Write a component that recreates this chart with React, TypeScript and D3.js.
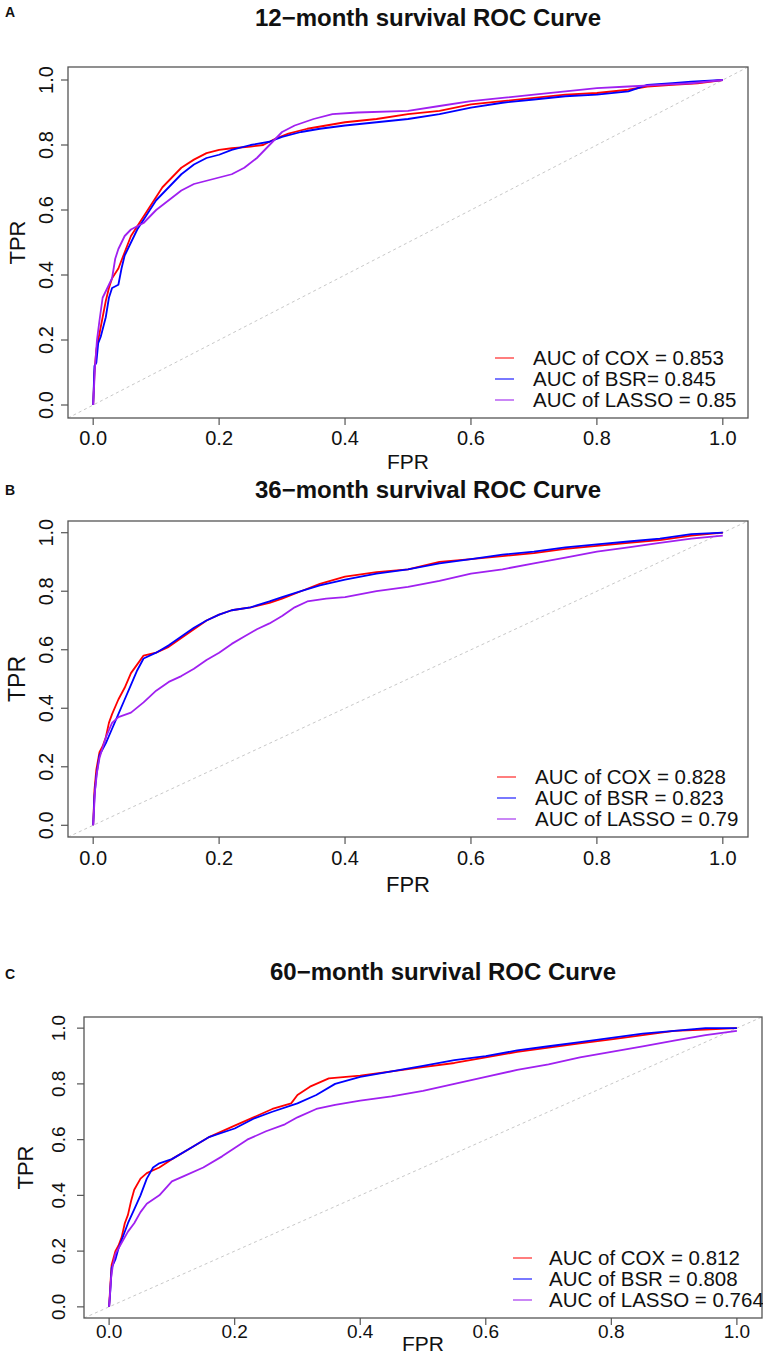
import React from "react";
import * as d3 from "d3";

// ---------- data ----------
const panelLetters = ["A", "B", "C"];
const panelTitles = [
  "12\u2212month survival ROC Curve",
  "36\u2212month survival ROC Curve",
  "60\u2212month survival ROC Curve",
];
const axisTicks = [0, 0.2, 0.4, 0.6, 0.8, 1.0];
const tickLabels = ["0.0", "0.2", "0.4", "0.6", "0.8", "1.0"];
const xTitle = "FPR";
const yTitle = "TPR";
const modelNames = ["COX", "BSR", "LASSO"];

const legend12 = ["AUC of COX = 0.853", "AUC of BSR= 0.845", "AUC of LASSO = 0.85"];
const legend36 = ["AUC of COX = 0.828", "AUC of BSR = 0.823", "AUC of LASSO = 0.79"];
const legend60 = ["AUC of COX = 0.812", "AUC of BSR = 0.808", "AUC of LASSO = 0.764"];

type P = [number, number];

// 12-month
const cox12: P[] = [[0,0],[0.002,0.1],[0.005,0.17],[0.01,0.22],[0.015,0.27],[0.02,0.32],[0.025,0.36],[0.03,0.39],[0.04,0.42],[0.05,0.47],[0.06,0.52],[0.07,0.55],[0.08,0.58],[0.09,0.61],[0.1,0.64],[0.11,0.67],[0.12,0.69],[0.13,0.71],[0.14,0.73],[0.16,0.755],[0.18,0.775],[0.2,0.785],[0.22,0.79],[0.25,0.795],[0.27,0.8],[0.29,0.82],[0.31,0.835],[0.34,0.85],[0.37,0.86],[0.4,0.87],[0.45,0.88],[0.5,0.895],[0.55,0.905],[0.6,0.925],[0.65,0.935],[0.7,0.945],[0.75,0.955],[0.8,0.96],[0.85,0.97],[0.88,0.98],[0.92,0.985],[0.96,0.99],[1,1]];
const bsr12: P[] = [[0,0],[0.002,0.12],[0.005,0.13],[0.008,0.19],[0.012,0.21],[0.02,0.27],[0.025,0.33],[0.03,0.36],[0.04,0.37],[0.045,0.42],[0.05,0.46],[0.06,0.5],[0.07,0.54],[0.08,0.57],[0.09,0.6],[0.1,0.63],[0.12,0.67],[0.14,0.71],[0.16,0.74],[0.18,0.76],[0.2,0.77],[0.22,0.785],[0.25,0.8],[0.28,0.81],[0.3,0.825],[0.33,0.84],[0.36,0.85],[0.4,0.86],[0.45,0.87],[0.5,0.88],[0.55,0.895],[0.6,0.915],[0.65,0.93],[0.7,0.94],[0.75,0.95],[0.8,0.955],[0.85,0.965],[0.88,0.985],[0.92,0.99],[0.95,0.995],[1,1]];
const lasso12: P[] = [[0,0],[0.003,0.12],[0.006,0.2],[0.01,0.26],[0.015,0.33],[0.02,0.35],[0.03,0.39],[0.035,0.45],[0.04,0.48],[0.05,0.52],[0.06,0.54],[0.08,0.56],[0.1,0.6],[0.12,0.63],[0.14,0.66],[0.16,0.68],[0.18,0.69],[0.2,0.7],[0.22,0.71],[0.24,0.73],[0.26,0.76],[0.28,0.8],[0.3,0.84],[0.32,0.86],[0.35,0.88],[0.38,0.895],[0.42,0.9],[0.5,0.905],[0.55,0.92],[0.6,0.935],[0.65,0.945],[0.7,0.955],[0.75,0.965],[0.8,0.975],[0.85,0.98],[0.9,0.985],[0.95,0.99],[1,1]];

// 36-month
const cox36: P[] = [[0,0],[0.002,0.12],[0.005,0.19],[0.01,0.25],[0.015,0.27],[0.02,0.3],[0.025,0.35],[0.03,0.38],[0.04,0.43],[0.05,0.47],[0.06,0.52],[0.07,0.55],[0.08,0.58],[0.1,0.59],[0.12,0.61],[0.14,0.64],[0.16,0.67],[0.18,0.7],[0.2,0.72],[0.22,0.735],[0.25,0.745],[0.28,0.76],[0.3,0.775],[0.33,0.8],[0.36,0.825],[0.4,0.85],[0.45,0.865],[0.5,0.875],[0.55,0.9],[0.6,0.91],[0.65,0.92],[0.7,0.93],[0.75,0.945],[0.8,0.955],[0.85,0.965],[0.9,0.975],[0.95,0.99],[1,1]];
const bsr36: P[] = [[0,0],[0.002,0.1],[0.005,0.17],[0.01,0.24],[0.02,0.28],[0.03,0.33],[0.04,0.38],[0.05,0.43],[0.06,0.48],[0.07,0.53],[0.08,0.57],[0.1,0.59],[0.12,0.615],[0.14,0.645],[0.16,0.675],[0.18,0.7],[0.2,0.72],[0.22,0.735],[0.25,0.745],[0.28,0.765],[0.3,0.78],[0.33,0.8],[0.36,0.82],[0.4,0.84],[0.45,0.86],[0.5,0.875],[0.55,0.895],[0.6,0.91],[0.65,0.925],[0.7,0.935],[0.75,0.95],[0.8,0.96],[0.85,0.97],[0.9,0.98],[0.95,0.995],[1,1]];
const lasso36: P[] = [[0,0],[0.003,0.12],[0.006,0.18],[0.01,0.23],[0.02,0.3],[0.03,0.35],[0.04,0.37],[0.06,0.385],[0.08,0.42],[0.1,0.46],[0.12,0.49],[0.14,0.51],[0.16,0.535],[0.18,0.565],[0.2,0.59],[0.22,0.62],[0.24,0.645],[0.26,0.67],[0.28,0.69],[0.3,0.715],[0.32,0.745],[0.34,0.765],[0.37,0.775],[0.4,0.78],[0.45,0.8],[0.5,0.815],[0.55,0.835],[0.6,0.86],[0.65,0.875],[0.7,0.895],[0.75,0.915],[0.8,0.935],[0.85,0.95],[0.9,0.965],[0.95,0.98],[1,0.99]];

// 60-month
const cox60: P[] = [[0,0],[0.002,0.08],[0.004,0.15],[0.01,0.2],[0.015,0.22],[0.02,0.25],[0.025,0.3],[0.03,0.33],[0.035,0.38],[0.04,0.42],[0.05,0.46],[0.06,0.48],[0.08,0.5],[0.1,0.53],[0.13,0.57],[0.16,0.61],[0.2,0.65],[0.23,0.68],[0.26,0.71],[0.29,0.73],[0.3,0.76],[0.32,0.79],[0.35,0.82],[0.4,0.83],[0.45,0.845],[0.5,0.86],[0.55,0.875],[0.6,0.895],[0.65,0.915],[0.7,0.93],[0.75,0.945],[0.8,0.96],[0.85,0.975],[0.9,0.99],[0.95,0.995],[1,1]];
const bsr60: P[] = [[0,0],[0.002,0.06],[0.004,0.14],[0.01,0.17],[0.015,0.21],[0.02,0.24],[0.03,0.3],[0.04,0.35],[0.05,0.4],[0.06,0.46],[0.07,0.5],[0.08,0.515],[0.1,0.53],[0.13,0.57],[0.16,0.61],[0.2,0.64],[0.23,0.675],[0.26,0.7],[0.3,0.73],[0.33,0.76],[0.36,0.8],[0.4,0.825],[0.45,0.845],[0.5,0.865],[0.55,0.885],[0.6,0.9],[0.65,0.92],[0.7,0.935],[0.75,0.95],[0.8,0.965],[0.85,0.98],[0.9,0.99],[0.95,1],[1,1]];
const lasso60: P[] = [[0,0],[0.003,0.1],[0.006,0.15],[0.01,0.19],[0.02,0.23],[0.03,0.27],[0.04,0.3],[0.05,0.34],[0.06,0.37],[0.08,0.4],[0.1,0.45],[0.12,0.47],[0.15,0.5],[0.18,0.54],[0.2,0.57],[0.22,0.6],[0.25,0.63],[0.28,0.655],[0.3,0.68],[0.33,0.71],[0.36,0.725],[0.4,0.74],[0.45,0.755],[0.5,0.775],[0.55,0.8],[0.6,0.825],[0.65,0.85],[0.7,0.87],[0.75,0.895],[0.8,0.915],[0.85,0.935],[0.9,0.955],[0.95,0.975],[1,0.99]];

const panelSeries = [
  [cox12, bsr12, lasso12],
  [cox36, bsr36, lasso36],
  [cox60, bsr60, lasso60],
];
const panelLegends = [legend12, legend36, legend60];

// ---------- layout / style ----------
const W = 763;
const H = 1358;
const seriesColors = ["#ff0000", "#0000ff", "#a020f0"];
const legendColors = ["#ff7070", "#6a6aff", "#c47af5"];
const FONT = "'Liberation Sans', Arial, Helvetica, sans-serif";

const layouts = [
  { left: 68, right: 748, top: 67, bottom: 418, titleY: 18, letterY: 12, yLabX: 46, yTitleX: 17, xLabGap: 20, xTitleGap: 44, tick: 20, lab: 21, legX: 533, legLineX: [495, 514] },
  { left: 68, right: 748, top: 521, bottom: 837, titleY: 490, letterY: 490, yLabX: 46, yTitleX: 17, xLabGap: 21, xTitleGap: 47, tick: 20, lab: 22, legX: 535, legLineX: [497, 516] },
  { left: 84, right: 762, top: 1017, bottom: 1318, titleY: 972, letterY: 974, yLabX: 58, yTitleX: 25, xLabGap: 13, xTitleGap: 26, tick: 19, lab: 21, legX: 549, legLineX: [513, 532] },
];

function Panel({ idx }: { idx: number }) {
  const L = layouts[idx];
  const x = d3.scaleLinear().domain([-0.04, 1.04]).range([L.left, L.right]);
  const y = d3.scaleLinear().domain([-0.04, 1.04]).range([L.bottom, L.top]);
  const line = d3
    .line<P>()
    .x((d) => x(d[0]))
    .y((d) => y(d[1]));
  const clipId = `clip-${idx}`;
  const series = panelSeries[idx];
  const legend = panelLegends[idx];
  const rowH = 21;
  const tickLen = 7;
  return (
    <g fontFamily={FONT} fill="#111">
      <defs>
        <clipPath id={clipId}>
          <rect x={L.left} y={L.top} width={L.right - L.left} height={L.bottom - L.top} />
        </clipPath>
      </defs>
      <text x={5} y={L.letterY} dy="0.35em" fontSize={14} fontWeight="bold">
        {panelLetters[idx]}
      </text>
      <text x={(L.left + L.right) / 2 + 20} y={L.titleY} dy="0.35em" fontSize={24} fontWeight="bold" textAnchor="middle">
        {panelTitles[idx]}
      </text>
      <g clipPath={`url(#${clipId})`}>
        <line
          x1={x(-0.04)}
          y1={y(-0.04)}
          x2={x(1.04)}
          y2={y(1.04)}
          stroke="#c8c8c8"
          strokeWidth={1}
          strokeDasharray="3,3"
        />
        {series.map((s, i) => (
          <path key={i} d={line(s) || ""} fill="none" stroke={seriesColors[i]} strokeWidth={1.8} strokeLinejoin="round" />
        ))}
      </g>
      <rect
        x={L.left}
        y={L.top}
        width={L.right - L.left}
        height={L.bottom - L.top}
        fill="none"
        stroke="#555"
        strokeWidth={1.3}
      />
      {axisTicks.map((t, i) => (
        <g key={`x${i}`}>
          <line x1={x(t)} x2={x(t)} y1={L.bottom} y2={L.bottom + tickLen} stroke="#555" strokeWidth={1.2} />
          <text x={x(t)} y={L.bottom + L.xLabGap} dy="0.35em" fontSize={L.tick} textAnchor="middle">
            {tickLabels[i]}
          </text>
        </g>
      ))}
      {axisTicks.map((t, i) => (
        <g key={`y${i}`}>
          <line x1={L.left} x2={L.left - tickLen} y1={y(t)} y2={y(t)} stroke="#555" strokeWidth={1.2} />
          <text
            transform={`translate(${L.yLabX},${y(t)}) rotate(-90)`}
            dy="0.35em"
            fontSize={L.tick}
            textAnchor="middle"
          >
            {tickLabels[i]}
          </text>
        </g>
      ))}
      <text x={(L.left + L.right) / 2} y={L.bottom + L.xTitleGap} dy="0.35em" fontSize={L.lab} textAnchor="middle">
        {xTitle}
      </text>
      <text
        transform={`translate(${L.yTitleX},${(L.top + L.bottom) / 2}) rotate(-90)`}
        dy="0.35em"
        fontSize={L.lab + 1}
        textAnchor="middle"
      >
        {yTitle}
      </text>
      {legend.map((lab, i) => {
        const cy = L.bottom - 18 - (legend.length - 1 - i) * rowH;
        return (
          <g key={`l${i}`} data-model={modelNames[i]}>
            <line x1={L.legLineX[0]} x2={L.legLineX[1]} y1={cy} y2={cy} stroke={legendColors[i]} strokeWidth={1.8} />
            <text x={L.legX} y={cy} dy="0.35em" fontSize={20.5}>
              {lab}
            </text>
          </g>
        );
      })}
    </g>
  );
}

export default function App() {
  return (
    <svg
      width={W}
      height={H}
      viewBox={`0 0 ${W} ${H}`}
      style={{ position: "absolute", left: 0, top: 0, background: "#fff" }}
    >
      <rect x={0} y={0} width={W} height={H} fill="#fff" />
      {[0, 1, 2].map((i) => (
        <Panel key={i} idx={i} />
      ))}
    </svg>
  );
}
